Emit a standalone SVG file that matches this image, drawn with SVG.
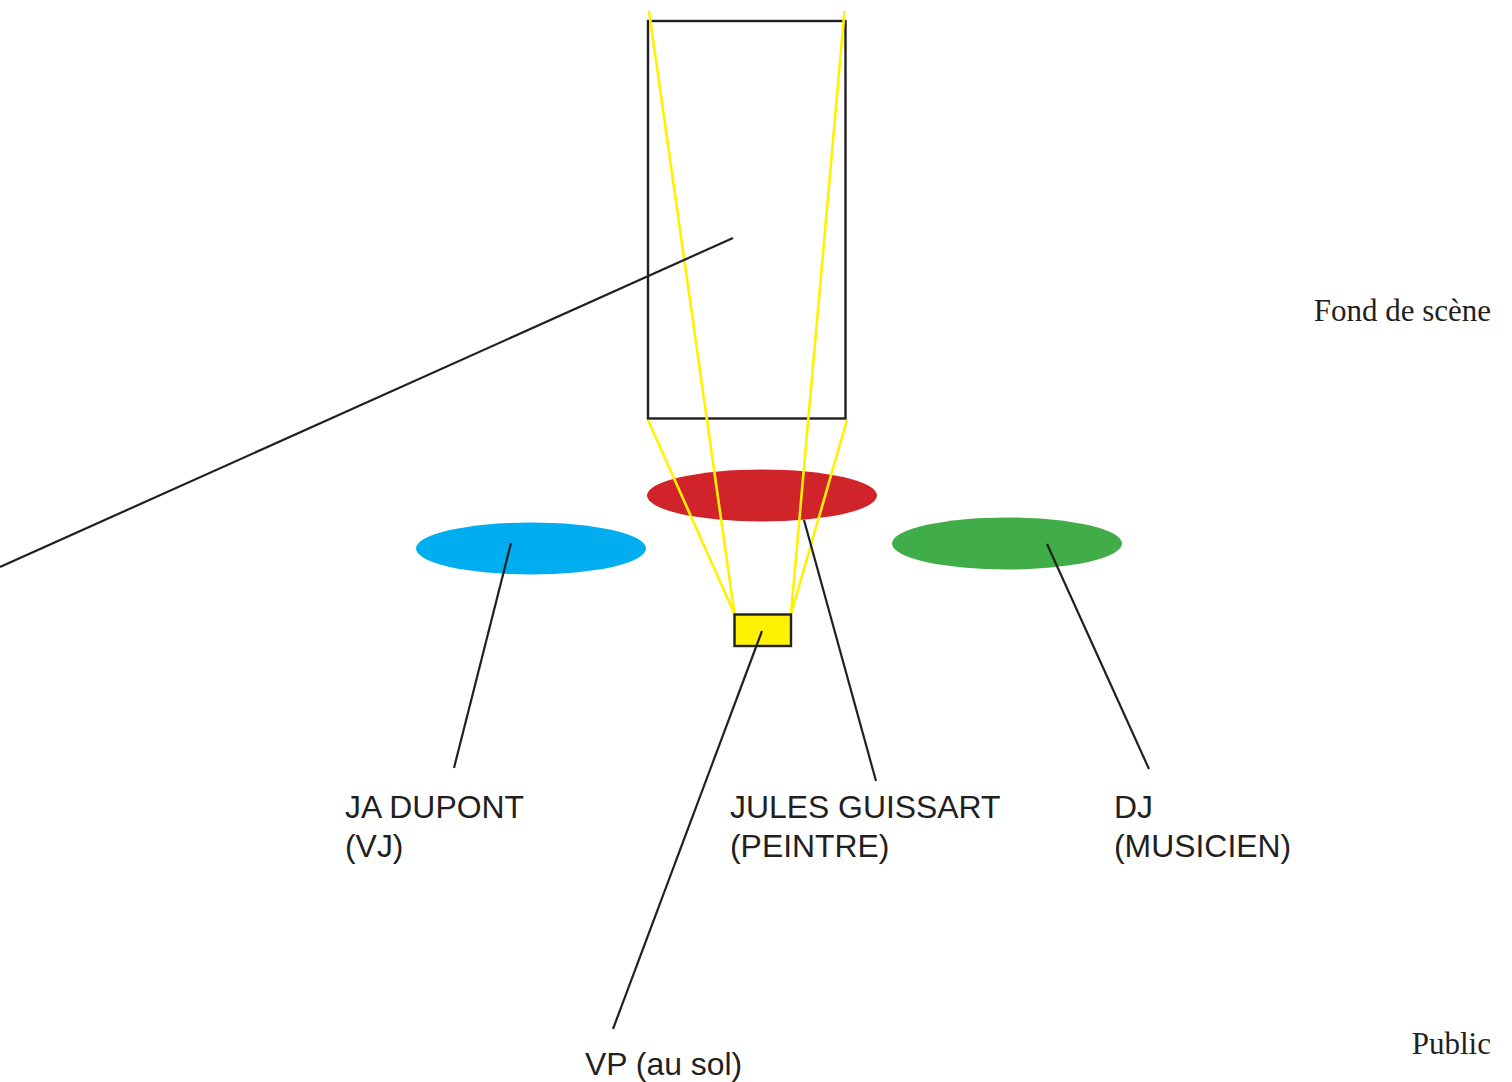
<svg xmlns="http://www.w3.org/2000/svg" width="1512" height="1082" viewBox="0 0 1512 1082">
<style>
.sans{font-family:"Liberation Sans",Arial,sans-serif;font-size:31.9px;fill:#231F20}
.serif{font-family:"Liberation Serif","Times New Roman",serif;font-size:31px;fill:#231F20}
.ln{stroke:#231F20;stroke-width:2.2;fill:none}
.beam{stroke:#FFF200;stroke-width:2.6;fill:none}
</style>
<rect width="1512" height="1082" fill="#fff"/>
<g id="ecran"><rect x="648" y="21" width="197.5" height="397.5" fill="none" stroke="#231F20" stroke-width="2.4"/></g>
<g id="peintre"><ellipse cx="762" cy="495.5" rx="115" ry="26" fill="#D1232A"/></g>
<g id="vj"><ellipse cx="531" cy="548.5" rx="115" ry="26" fill="#00AEEF"/></g>
<g id="dj"><ellipse cx="1007" cy="543.5" rx="115" ry="26" fill="#41AD49"/></g>
<g id="faisceaux">
<line class="beam" x1="649" y1="11" x2="734.5" y2="614"/>
<line class="beam" x1="648" y1="420" x2="734.5" y2="614"/>
<line class="beam" x1="844.5" y1="11" x2="791" y2="614"/>
<line class="beam" x1="847" y1="420" x2="791" y2="614"/>
</g>
<g id="vp"><rect x="734.5" y="614.5" width="56.5" height="31.5" fill="#FFF200" stroke="#231F20" stroke-width="2.4"/></g>
<g id="connecteurs">
<line class="ln" x1="733" y1="238" x2="0" y2="567"/>
<line class="ln" x1="511" y1="543" x2="454" y2="768"/>
<line class="ln" x1="804" y1="520" x2="876" y2="781"/>
<line class="ln" x1="1047" y1="544" x2="1149" y2="769"/>
<line class="ln" x1="762" y1="631" x2="613" y2="1029"/>
</g>
<g id="textes">
<text class="sans" x="345" y="818">JA DUPONT</text>
<text class="sans" x="345" y="857">(VJ)</text>
<text class="sans" x="730" y="818">JULES GUISSART</text>
<text class="sans" x="730" y="857">(PEINTRE)</text>
<text class="sans" x="1114" y="818">DJ</text>
<text class="sans" x="1114" y="857">(MUSICIEN)</text>
<text class="sans" x="585" y="1075">VP (au sol)</text>
<text class="serif" x="1491" y="321" text-anchor="end">Fond de scène</text>
<text class="serif" x="1491" y="1054" text-anchor="end">Public</text>
</g>
</svg>
